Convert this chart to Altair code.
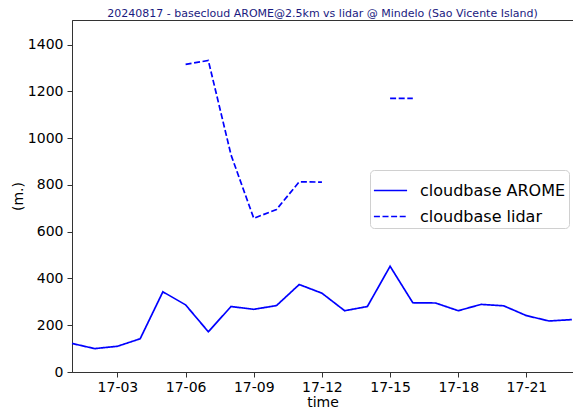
import altair as alt
import pandas as pd

hours = list(range(1, 24))
arome = [122, 100, 110, 142, 343, 287, 172, 280, 268, 284, 374, 337, 262, 280, 452, 296,
         295, 262, 289, 283, 241, 218, 224]

lidar_hours = [6, 7, 8, 9, 10, 11, 12, 15, 16]
lidar = [1315, 1332, 928, 657, 695, 813, 812, 1170, 1170]
lidar_segment = [1, 1, 1, 1, 1, 1, 1, 2, 2]

series_names = ["cloudbase AROME", "cloudbase lidar"]
tick_hours = [3, 6, 9, 12, 15, 18, 21]
y_ticks = [0, 200, 400, 600, 800, 1000, 1200, 1400]

rows = []
for h, v in zip(hours, arome):
    rows.append({"hour": h, "value": v, "series": series_names[0], "seg": "a"})
for h, v, s in zip(lidar_hours, lidar, lidar_segment):
    rows.append({"hour": h, "value": v, "series": series_names[1], "seg": f"l{s}"})
df = pd.DataFrame(rows)

font = "DejaVu Sans"
legend = alt.Legend(
    title=None, orient="none", legendX=298, legendY=150,
    labelFontSize=16, labelFont=font, labelColor="black",
    symbolType="stroke", symbolSize=1100, symbolStrokeWidth=1.7,
    fillColor="white", strokeColor="#d0d0d0", cornerRadius=4,
    padding=3, rowPadding=-1, labelOffset=12,
)

chart = alt.Chart(df).mark_line(strokeWidth=1.7).encode(
    x=alt.X("hour:Q", title="time",
            scale=alt.Scale(domain=[1, 23.05], nice=False, zero=False),
            axis=alt.Axis(values=tick_hours,
                          labelExpr="'17-' + (datum.value < 10 ? '0' : '') + datum.value",
                          grid=False, labelFontSize=14, titleFontSize=14, labelFont=font,
                          titleFont=font, titleFontWeight="normal", labelColor="black",
                          titleColor="black", domainColor="#333", tickColor="#333",
                          tickSize=5, labelPadding=3, titlePadding=1, labelFlush=False)),
    y=alt.Y("value:Q", title="(m.)",
            scale=alt.Scale(domain=[0, 1505], nice=False),
            axis=alt.Axis(values=y_ticks, format="d", grid=False, labelFontSize=14,
                          titleFontSize=14, labelFont=font, titleFont=font,
                          titleFontWeight="normal", labelColor="black", titleColor="black",
                          domainColor="#333", tickColor="#333", tickSize=5, labelPadding=4,
                          titlePadding=2)),
    color=alt.Color("series:N", scale=alt.Scale(domain=series_names, range=["#0000ff", "#0000ff"]),
                    legend=legend),
    strokeDash=alt.StrokeDash("series:N", scale=alt.Scale(domain=series_names, range=[[1, 0], [6, 2.6]]),
                              legend=legend),
    detail="seg:N",
).properties(
    width=501, height=352,
    title=alt.TitleParams(
        "20240817 - basecloud AROME@2.5km vs lidar @ Mindelo (Sao Vicente Island)",
        fontSize=11, font=font, fontWeight="normal", color="#1a1a80", offset=1, anchor="middle"),
    autosize=alt.AutoSizeParams(type="none"),
    padding={"left": 64, "top": 12, "right": 0, "bottom": 37},
).configure_view(stroke="#333", strokeWidth=1)

chart.save("out.html", embed_options={"renderer": "svg", "actions": False})
